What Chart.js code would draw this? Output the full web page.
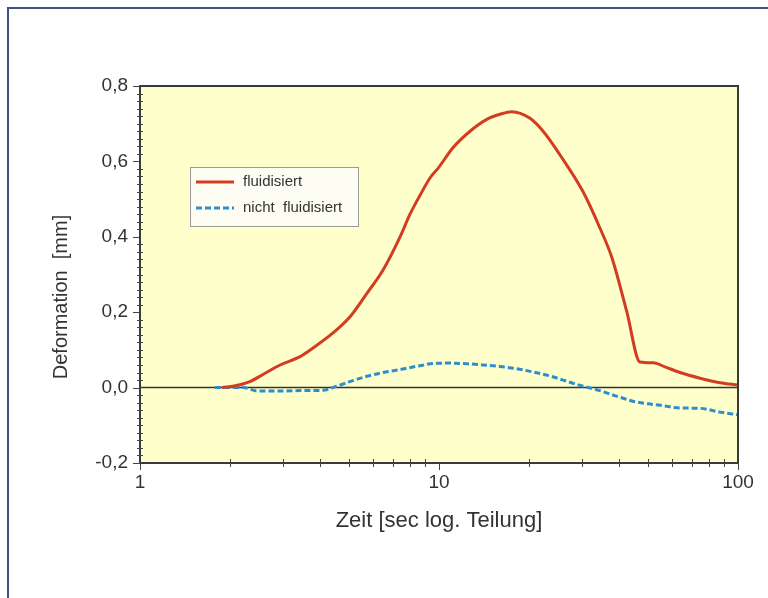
<!DOCTYPE html>
<html>
<head>
<meta charset="utf-8">
<script src="https://cdn.jsdelivr.net/npm/chart.js@4/dist/chart.umd.min.js"></script>
<style>
html,body{margin:0;padding:0;background:#fff;overflow:hidden}
#frame{position:absolute;left:7px;top:7px;width:820px;height:700px;border:2px solid #3a5583;box-sizing:border-box}
#wrap{position:absolute;left:0;top:0;width:768px;height:598px}
</style>
</head>
<body>
<div id="frame"></div>
<div id="wrap"><canvas id="chart" width="768" height="598"></canvas></div>
<script>
// Zeit [s] / Deformation [mm]
const fluidTime = [1.88, 2.08, 2.33, 2.62, 2.94, 3.43, 3.79, 4.42, 5.04, 5.74, 6.5, 7.41, 8.0, 8.64, 9.33, 10.0, 11.1, 12.7, 14.5, 16.0, 17.5, 20.1, 22.3, 25.4, 30.3, 34.5, 37.9, 42.5, 47.0, 52.0, 57.0, 64.0, 74.6, 87.1, 100];
const fluidDef = [0, 0.005, 0.016, 0.038, 0.06, 0.082, 0.105, 0.145, 0.188, 0.25, 0.312, 0.40, 0.46, 0.51, 0.556, 0.585, 0.635, 0.68, 0.712, 0.725, 0.732, 0.715, 0.68, 0.617, 0.52, 0.424, 0.344, 0.20, 0.068, 0.066, 0.055, 0.04, 0.025, 0.013, 0.007];

const nichtTime = [1.78, 2.21, 2.48, 3.0, 3.43, 4.09, 4.56, 5.0, 5.74, 6.5, 7.41, 8.5, 9.55, 10.9, 12.5, 14.0, 16.0, 18.2, 20.5, 23.5, 26.0, 29.0, 34.5, 39.0, 44.5, 50.0, 55.0, 64.0, 74.6, 87.0, 100];
const nichtDef = [0, 0, -0.009, -0.009, -0.008, -0.007, 0.004, 0.015, 0.03, 0.04, 0.048, 0.057, 0.064, 0.065, 0.063, 0.06, 0.056, 0.05, 0.042, 0.031, 0.02, 0.008, -0.008, -0.022, -0.036, -0.043, -0.047, -0.054, -0.055, -0.065, -0.072];

const seriesLabels = ['fluidisiert', 'nicht  fluidisiert'];
const xTicks = [1, 10, 100];
const yTicks = [-0.2, 0, 0.2, 0.4, 0.6, 0.8];

const FONT = '"Liberation Sans", Arial, sans-serif';
const TXT = '#333';
const RED = '#d23c20';
const BLUE = '#2c8fcc';

const toPoints = (xs, ys) => xs.map((x, i) => ({x: x, y: ys[i]}));

const plotDeco = {
  id: 'plotDeco',
  beforeDraw(chart){
    const {ctx, chartArea: a} = chart;
    ctx.save();
    ctx.fillStyle = '#ffffcc';
    ctx.fillRect(a.left, a.top, a.right - a.left, a.bottom - a.top);
    ctx.restore();
  },
  beforeDatasetsDraw(chart){
    const {ctx, chartArea: a, scales} = chart;
    const y0 = scales.y.getPixelForValue(0);
    ctx.save();
    ctx.strokeStyle = '#333';
    ctx.lineWidth = 1.5;
    ctx.beginPath();
    ctx.moveTo(a.left, y0);
    ctx.lineTo(a.right, y0);
    ctx.stroke();
    ctx.restore();
  },
  afterDatasetsDraw(chart){
    const {ctx, chartArea: a, scales} = chart;
    ctx.save();
    ctx.strokeStyle = '#3a3a3a';
    ctx.lineWidth = 2;
    ctx.strokeRect(a.left, a.top, a.right - a.left, a.bottom - a.top);

    // Teilstriche y
    ctx.strokeStyle = '#444';
    ctx.lineWidth = 1;
    ctx.beginPath();
    for(let i = -10; i <= 40; i++){
      const py = Math.round(scales.y.getPixelForValue(i / 50)) + 0.5;
      if(i % 10 === 0){ ctx.moveTo(a.left - 7, py); ctx.lineTo(a.left, py); }
      else { ctx.moveTo(a.left - 3, py); ctx.lineTo(a.left + 3, py); }
    }
    // Teilstriche x (log)
    [1, 10].forEach(dec => {
      for(let k = 1; k <= 10; k++){
        const v = dec * k;
        if(v > 100) continue;
        const px = Math.round(scales.x.getPixelForValue(v)) + 0.5;
        if(k === 1 || k === 10){ ctx.moveTo(px, a.bottom); ctx.lineTo(px, a.bottom + 7); }
        else { ctx.moveTo(px, a.bottom - 4); ctx.lineTo(px, a.bottom + 4); }
      }
    });
    ctx.stroke();

    // y-Achsentitel
    ctx.fillStyle = TXT;
    ctx.font = '20px ' + FONT;
    ctx.textAlign = 'center';
    ctx.textBaseline = 'middle';
    ctx.translate(61, 297);
    ctx.rotate(-Math.PI / 2);
    ctx.fillText('Deformation  [mm]', 0, 0);
    ctx.restore();

    // Legende
    const ds = chart.data.datasets;
    const bx = 190, by = 167, bw = 168, bh = 59;
    ctx.save();
    ctx.fillStyle = '#fdfdf4';
    ctx.fillRect(bx, by, bw, bh);
    ctx.strokeStyle = '#9a9a9a';
    ctx.lineWidth = 1;
    ctx.strokeRect(bx + 0.5, by + 0.5, bw, bh);
    ds.forEach((d, i) => {
      const ly = by + 15 + i * 26;
      ctx.strokeStyle = d.borderColor;
      ctx.lineWidth = 3;
      ctx.setLineDash(d.borderDash || []);
      ctx.beginPath();
      ctx.moveTo(bx + 6, ly);
      ctx.lineTo(bx + 44, ly);
      ctx.stroke();
      ctx.setLineDash([]);
      ctx.fillStyle = TXT;
      ctx.font = '15px ' + FONT;
      ctx.textAlign = 'left';
      ctx.textBaseline = 'middle';
      ctx.fillText(d.label, bx + 53, ly);
    });
    ctx.restore();
  }
};

new Chart(document.getElementById('chart'), {
  type: 'line',
  data: {
    datasets: [
      {label: seriesLabels[0], data: toPoints(fluidTime, fluidDef), borderColor: RED, borderWidth: 3, pointRadius: 0, cubicInterpolationMode: 'monotone', fill: false},
      {label: seriesLabels[1], data: toPoints(nichtTime, nichtDef), borderColor: BLUE, borderWidth: 3, borderDash: [6, 3], pointRadius: 0, cubicInterpolationMode: 'monotone', fill: false}
    ]
  },
  options: {
    responsive: false,
    animation: false,
    devicePixelRatio: 1,
    layout: {padding: {left: 0, right: 30, top: 86, bottom: 0}},
    plugins: {legend: {display: false}, tooltip: {enabled: false}},
    scales: {
      x: {
        type: 'logarithmic',
        min: 1, max: 100,
        grid: {display: false, drawTicks: false},
        border: {display: false},
        afterBuildTicks: s => { s.ticks = xTicks.map(v => ({value: v})); },
        afterFit: s => { s.height = 135; },
        ticks: {font: {size: 19, family: FONT}, color: TXT, padding: 8, maxRotation: 0, autoSkip: false, callback: v => String(v)},
        title: {display: true, text: 'Zeit [sec log. Teilung]', font: {size: 22, family: FONT}, color: TXT, padding: 64}
      },
      y: {
        min: -0.2, max: 0.8,
        grid: {display: false, drawTicks: false},
        border: {display: false},
        afterBuildTicks: s => { s.ticks = yTicks.map(v => ({value: v})); },
        afterFit: s => { s.width = 140; },
        ticks: {font: {size: 19, family: FONT}, color: TXT, padding: 12, callback: v => v.toFixed(1).replace('.', ',')}
      }
    }
  },
  plugins: [plotDeco]
});
</script>
</body>
</html>
